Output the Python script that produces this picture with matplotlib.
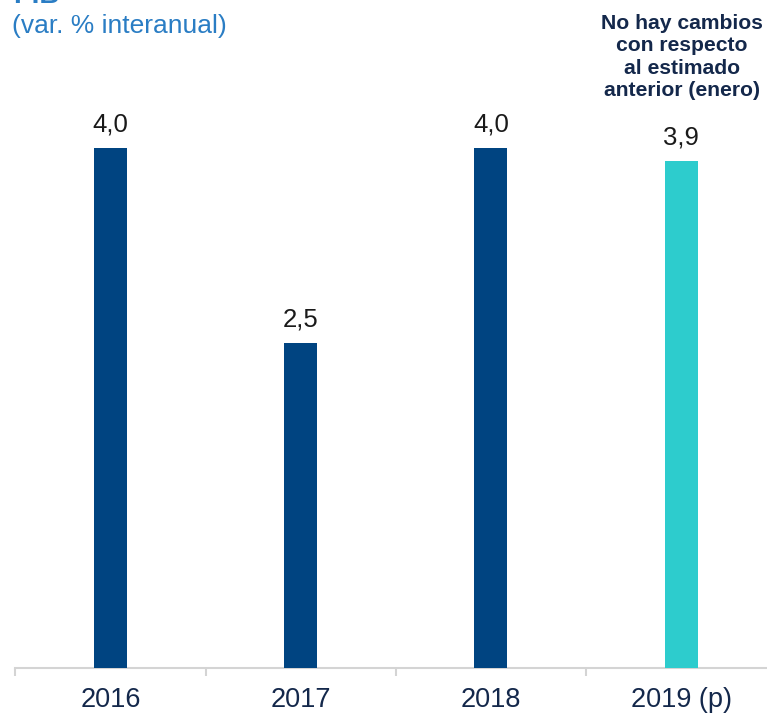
import numpy as np
import matplotlib.pyplot as plt
import matplotlib as mpl

plt.rcParams['font.family'] = ['Liberation Sans', 'DejaVu Sans']

# PIB growth, % year on year
years = ['2016', '2017', '2018', '2019 (p)']
growth = [4.0, 2.5, 4.0, 3.9]
labels = ['4,0', '2,5', '4,0', '3,9']
colors = ['#004481', '#004481', '#004481', '#2dcccd']

navy = '#14284b'
blue = '#2a7dc4'

fig = plt.figure(figsize=(7.67, 7.17), dpi=100)
ax = fig.add_axes([15.3 / 767, 49 / 717, 761 / 767, 650 / 717])

x = np.arange(len(years))
ax.bar(x, growth, width=0.173, color=colors, zorder=3)

for xi, v, lab in zip(x, growth, labels):
    ax.annotate(lab, (xi, v), xytext=(0, 12), textcoords='offset points',
                ha='center', va='baseline', fontsize=18.5, color='#1a1a1a')

ax.set_xlim(-0.5, len(years) - 0.5)
ax.set_ylim(0, 5)

for s in ['top', 'right', 'left']:
    ax.spines[s].set_visible(False)
ax.spines['bottom'].set_color('#d4d4d4')
ax.spines['bottom'].set_linewidth(1.5)
ax.set_yticks([])

ax.set_xticks(x)
ax.set_xticklabels(years, fontsize=19.5, color=navy)
ax.tick_params(axis='x', which='major', length=0, pad=14)
ax.xaxis.set_minor_locator(mpl.ticker.FixedLocator(np.arange(-0.5, len(years), 1.0)))
ax.tick_params(axis='x', which='minor', length=6, width=1.5, color='#d4d4d4')

# heading (partly outside the top edge) and subtitle
fig.text(13 / 767, 1 - 3 / 717, 'PIB', fontsize=20, fontweight='bold',
         color=blue, ha='left', va='baseline')
fig.text(12 / 767, 1 - 33 / 717, '(var. % interanual)', fontsize=19,
         color=blue, ha='left', va='baseline')

fig.text(682 / 767, 1 - 57 / 717,
         'No hay cambios\ncon respecto\nal estimado\nanterior (enero)',
         fontsize=15.2, fontweight='bold', color=navy, ha='center',
         va='center', linespacing=1.22)

plt.savefig('out.png', dpi=100)
plt.close()
